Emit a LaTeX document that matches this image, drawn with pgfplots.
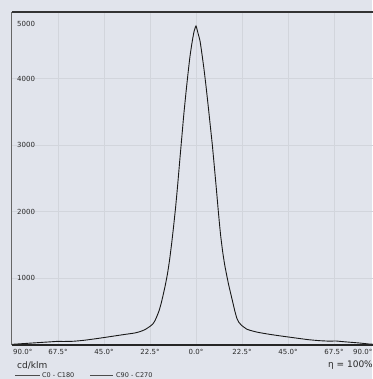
\documentclass[border=0pt]{standalone}
\usepackage{fontspec}
\setmainfont{DejaVu Sans}
\usepackage{pgfplots}
\pgfplotsset{compat=1.18}
\definecolor{bg}{HTML}{E1E4EC}
\definecolor{gridc}{HTML}{D2D5DC}
\definecolor{txt}{HTML}{282828}
\pgfplotstableread{
ang val
-90 10
-85 20
-80 30
-75 40
-70 50
-67.5 55
-65 53
-60 56
-55 70
-50 90
-45 112
-40 135
-35 158
-30 180
-27.5 200
-25 230
-22.5 280
-21 320
-20 370
-19 440
-18 520
-17 630
-16 760
-15 900
-14 1060
-13 1260
-12 1500
-11 1770
-10 2060
-9 2390
-8 2750
-7 3100
-6 3450
-5 3760
-4 4050
-3 4320
-2 4530
-1 4700
0 4790
1 4680
2 4560
3 4350
4 4120
5 3860
6 3580
7 3290
8 3000
9 2670
10 2330
11 1980
12 1660
13 1410
14 1210
15 1050
16 900
17 770
18 640
19 510
20 400
21 340
22.5 290
25 235
27.7 210
30 192
35 165
40 142
44 125
50 100
55 80
60 66
65 58
68.5 60
72 50
76 40
80 30
84.6 15
90 5
}\curve
\tikzset{tl/.style={inner sep=0pt, font=\fontsize{7}{8}\selectfont, text=txt}}
\begin{document}
\begin{tikzpicture}
\fill[bg] (-12pt,-34pt) rectangle (360pt,345pt);
\begin{axis}[
  at={(0pt,0pt)}, anchor=south west,
  scale only axis, width=368pt, height=333pt,
  xmin=-90, xmax=90, ymin=0, ymax=5000,
  xtick={-67.5,-45,-22.5,0,22.5,45,67.5},
  ytick={1000,2000,3000,4000},
  xticklabels={}, yticklabels={},
  major tick length=0pt,
  grid=major, grid style={gridc, line width=0.8pt},
  axis line style={draw=none},
  clip=false,
]
\addplot[black!90, line width=0.9pt, smooth, tension=0.3] table[x=ang,y=val]{\curve};
\draw[black!80, line width=1.2pt] (rel axis cs:0,1) -- (rel axis cs:1,1);
\draw[black!60, line width=1pt] (rel axis cs:0,0) -- (rel axis cs:0,1);
\draw[black!85, line width=1.6pt] (rel axis cs:0,0) -- (rel axis cs:1,0);
\node[tl, anchor=west, xshift=5pt] at (axis cs:-90,1000) {1000};
\node[tl, anchor=west, xshift=5pt] at (axis cs:-90,2000) {2000};
\node[tl, anchor=west, xshift=5pt] at (axis cs:-90,3000) {3000};
\node[tl, anchor=west, xshift=5pt] at (axis cs:-90,4000) {4000};
\node[tl, anchor=west, xshift=5pt, yshift=-12pt] at (axis cs:-90,5000) {5000};
\node[tl, yshift=-6.5pt] at (axis cs:-67.5,0) {67.5°};
\node[tl, yshift=-6.5pt] at (axis cs:-45,0) {45.0°};
\node[tl, yshift=-6.5pt] at (axis cs:-22.5,0) {22.5°};
\node[tl, yshift=-6.5pt] at (axis cs:0,0) {0.0°};
\node[tl, yshift=-6.5pt] at (axis cs:22.5,0) {22.5°};
\node[tl, yshift=-6.5pt] at (axis cs:45,0) {45.0°};
\node[tl, yshift=-6.5pt] at (axis cs:67.5,0) {67.5°};
\node[tl, anchor=west, xshift=1pt, yshift=-6.5pt] at (axis cs:-90,0) {90.0°};
\node[tl, anchor=west, xshift=-27pt, yshift=-6.5pt] at (axis cs:90,0) {90.0°};
\end{axis}
\node[anchor=west, inner sep=0pt, font=\fontsize{9}{10}\selectfont, text=txt] at (5pt,-20pt) {cd/klm};
\node[anchor=east, inner sep=0pt, font=\fontsize{9}{10}\selectfont, text=txt] at (361pt,-20pt) {η = 100\%};
\draw[black!70, line width=0.6pt] (3pt,-30pt) -- (28pt,-30pt);
\node[anchor=west, inner sep=0pt, font=\fontsize{6.5}{7}\selectfont, text=txt] at (30pt,-30pt) {C0 - C180};
\draw[black!70, line width=0.6pt] (78pt,-30pt) -- (101pt,-30pt);
\node[anchor=west, inner sep=0pt, font=\fontsize{6.5}{7}\selectfont, text=txt] at (104pt,-30pt) {C90 - C270};
\pgfresetboundingbox
\useasboundingbox (-12pt,-34pt) rectangle (360pt,345pt);
\end{tikzpicture}
\end{document}
